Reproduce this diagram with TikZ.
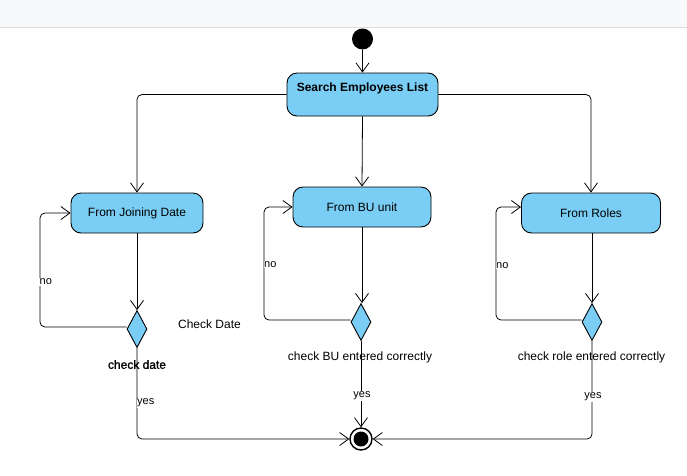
\documentclass[tikz,border=0pt]{standalone}
\usepackage{fontspec}
\setmainfont{Liberation Sans}
\newfontfamily\fakeboldfont[FakeBold=1.2]{Liberation Sans}
\usetikzlibrary{arrows.meta,shapes.geometric}
\definecolor{actblue}{RGB}{122,206,245}
\definecolor{barbg}{RGB}{248,249,250}
\definecolor{barline}{RGB}{222,222,222}
\tikzset{
  act/.style={draw=black, fill=actblue, rounded corners=10pt, line width=0.9pt, font=\fontsize{12}{14}\selectfont, inner sep=0pt},
  dec/.style={draw=black, fill=actblue, diamond, line width=0.9pt, minimum width=20pt, minimum height=37pt, inner sep=0pt, aspect=0.54},
  flow/.style={draw=black, line width=0.8pt, rounded corners=5pt, -{Straight Barb[length=9pt,width=13pt,line width=0.8pt]}},
  elab/.style={fill=white, inner sep=0.5pt, font=\fontsize{11}{13}\selectfont},
  lab/.style={inner sep=0pt, font=\fontsize{12}{14}\selectfont}
}
\begin{document}
\begin{tikzpicture}[x=1pt,y=-1pt]
\useasboundingbox (0,0) rectangle (687,475);
\fill[barbg] (0,0) rectangle (687,27);
\draw[barline, line width=1pt] (0,27.5) -- (687,27.5);

% start
\node[circle, fill=black, minimum size=21pt, inner sep=0pt] (start) at (362.5,39) {};
% search
\node[act, minimum width=151pt, minimum height=43pt] (search) at (362.5,94.5) {};
\node[lab, font=\fontsize{12}{14}\selectfont\bfseries] (searcht) at (362.5,88) {Search Employees List};

% activities
\node[act, minimum width=132pt, minimum height=40pt] (fjd) at (137,213) {\raisebox{-1pt}{From Joining Date}};
\node[act, minimum width=138pt, minimum height=40pt] (bu) at (362,207) {\raisebox{-1pt}{From BU unit}};
\node[act, minimum width=139pt, minimum height=40pt] (roles) at (591,213) {\raisebox{-1pt}{From Roles}};

% decisions
\node[dec] (d1) at (137,329) {};
\node[dec] (d2) at (361,322) {};
\node[dec] (d3) at (592,322) {};

% end
\node[circle, draw=black, line width=1.4pt, fill=white, minimum size=22pt, inner sep=0pt] (end) at (361,439) {};
\node[circle, fill=black, minimum size=15pt, inner sep=0pt] (endin) at (361,439) {};

% loop corner coordinates
\coordinate (l1) at (40,300);
\coordinate (l2) at (264,290);
\coordinate (l3) at (496,290);

% connectors
\draw[flow] (start) -- (search);
\draw[flow] (search.west) -| (fjd.north);
\draw[flow] (search.south) -- (bu.north);
\draw[flow] (search.east) -| (roles.north);

\draw[flow] (fjd.south) -- (d1.north);
\draw[flow] (bu.south) -- (bu.south |- d2.north);
\draw[flow] (roles.south -| d3.north) -- (d3.north);

\draw[flow] ([yshift=2pt]d1.west) -| (l1) |- (fjd.west);
\draw[flow] ([yshift=2pt]d2.west) -| (l2) |- (bu.west);
\draw[flow] ([yshift=2pt]d3.west) -| (l3) |- ([yshift=6pt]roles.west);

\draw[flow] (d1.south) |- (end.west);
\draw[flow] (d2.south) -- (end.north);
\draw[flow] (d3.south) |- (end.east);

% edge labels
\node[elab, anchor=west] (no1) at (39,282) {no};
\node[elab, anchor=west] (no2) at (263.5,264.5) {no};
\node[elab, anchor=west] (no3) at (495.5,265.5) {no};
\node[elab, anchor=west] (yes1) at (136.5,403) {yes};
\node[elab] (yes2) at (362,396) {yes};
\node[elab] (yes3) at (593,397) {yes};

% other labels
\node[lab] (cdate) at (209.5,324.5) {Check Date};
\node[lab, font=\fontsize{12}{14}\fakeboldfont] (d1t) at (137,364.5) {check date};
\node[lab] (d2t) at (360,357.5) {check BU entered correctly};
\node[lab] (d3t) at (591.5,357.5) {check role entered correctly};
\end{tikzpicture}
\end{document}
